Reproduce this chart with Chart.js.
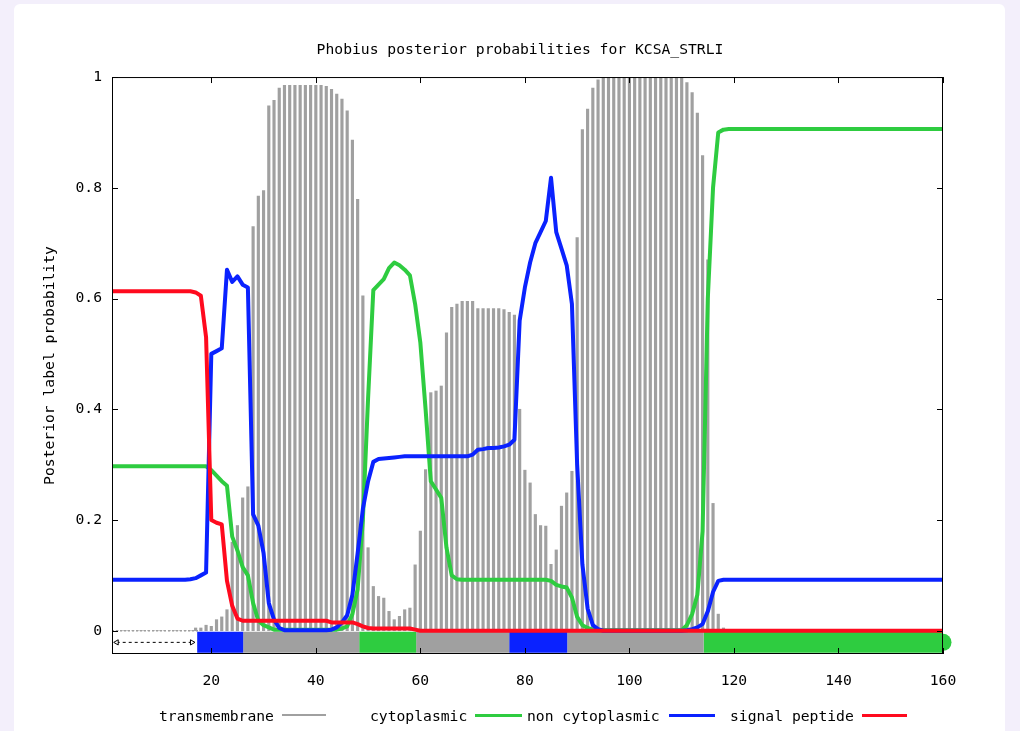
<!DOCTYPE html>
<html>
<head>
<meta charset="utf-8">
<title>Phobius posterior probabilities for KCSA_STRLI</title>
<script src="https://cdn.jsdelivr.net/npm/chart.js@4.4.1/dist/chart.umd.min.js"></script>
<style>
  body { margin: 0; width: 1020px; height: 731px; overflow: hidden; background: #f3effb; position: relative; }
  #panel { position: absolute; left: 14px; top: 4px; width: 991px; height: 760px; background: #fff; border-radius: 6px; }
  #chart { position: absolute; left: 0; top: 0; }
  .leg { position: absolute; top: 707px; font: 14.7px "DejaVu Sans Mono", monospace; color: #000; line-height: 18px; white-space: nowrap; }
  .key { position: absolute; height: 3px; }
</style>
</head>
<body>
<div id="panel"></div>
<canvas id="chart" width="1020" height="731"></canvas>

<span class="leg" style="left:159px">transmembrane</span>
<span class="key" style="left:282px; top:714px; width:44px; height:2px; background:#a0a0a0"></span>
<span class="leg" style="left:370px">cytoplasmic</span>
<span class="key" style="left:475px; top:714px; width:47px; background:#2ecc40"></span>
<span class="leg" style="left:527px">non cytoplasmic</span>
<span class="key" style="left:669px; top:714px; width:46px; background:#0a22ff"></span>
<span class="leg" style="left:730px">signal peptide</span>
<span class="key" style="left:862px; top:714px; width:45px; background:#ff0a1e"></span>

<script>
// residue positions along the sequence
const residues = Array.from({ length: 160 }, (_, i) => i + 1);

const xTicks = [20, 40, 60, 80, 100, 120, 140, 160];
const yTicks = [0, 0.2, 0.4, 0.6, 0.8, 1];

// posterior label probabilities per residue
const transmembrane = [
  0, 0, 0, 0, 0, 0, 0, 0, 0, 0,
  0, 0, 0, 0, 0, 0, 0.005, 0.005, 0.01, 0.008,
  0.02, 0.025, 0.038, 0.16, 0.19, 0.24, 0.26, 0.73, 0.785, 0.795,
  0.948, 0.958, 0.98, 0.985, 0.985, 0.985, 0.985, 0.985, 0.985, 0.985,
  0.985, 0.983, 0.978, 0.969, 0.96, 0.939, 0.886, 0.779, 0.605, 0.15,
  0.08, 0.062, 0.059, 0.035, 0.02, 0.026, 0.038, 0.041, 0.119, 0.18,
  0.291, 0.43, 0.433, 0.442, 0.538, 0.584, 0.59, 0.595, 0.595, 0.595,
  0.582, 0.582, 0.582, 0.582, 0.582, 0.58, 0.575, 0.57, 0.4, 0.29,
  0.267, 0.21, 0.19, 0.189, 0.12, 0.146, 0.225, 0.249, 0.288, 0.71,
  0.905, 0.942, 0.98, 0.995, 1, 1, 1, 1, 1, 1,
  1, 1, 1, 1, 1, 1, 1, 1, 1, 1,
  0.99, 0.972, 0.935, 0.858, 0.67, 0.23, 0.03, 0.005, 0, 0,
  0, 0, 0, 0, 0, 0, 0, 0, 0, 0,
  0, 0, 0, 0, 0, 0, 0, 0, 0, 0,
  0, 0, 0, 0, 0, 0, 0, 0, 0, 0,
  0, 0, 0, 0, 0, 0, 0, 0, 0, 0
];

const cytoplasmic = [
  0.297, 0.297, 0.297, 0.297, 0.297, 0.297, 0.297, 0.297, 0.297, 0.297,
  0.297, 0.297, 0.297, 0.297, 0.297, 0.297, 0.297, 0.297, 0.297, 0.29,
  0.28, 0.27, 0.262, 0.17, 0.145, 0.115, 0.1, 0.05, 0.018, 0.01,
  0.006, 0.002, 0.002, 0.002, 0.002, 0.002, 0.002, 0.002, 0.002, 0.002,
  0.002, 0.002, 0.002, 0.002, 0.004, 0.008, 0.03, 0.075, 0.2, 0.42,
  0.615, 0.625, 0.635, 0.655, 0.665, 0.66, 0.652, 0.642, 0.59, 0.52,
  0.4, 0.27, 0.255, 0.24, 0.15, 0.1, 0.093, 0.092, 0.092, 0.092,
  0.092, 0.092, 0.092, 0.092, 0.092, 0.092, 0.092, 0.092, 0.092, 0.092,
  0.092, 0.092, 0.092, 0.092, 0.09, 0.083, 0.08, 0.078, 0.06, 0.025,
  0.01, 0.005, 0.002, 0.001, 0.001, 0.001, 0.001, 0.001, 0.001, 0.001,
  0.001, 0.001, 0.001, 0.001, 0.001, 0.001, 0.001, 0.001, 0.001, 0.001,
  0.01, 0.03, 0.065, 0.18, 0.6, 0.8, 0.9, 0.905, 0.906, 0.906,
  0.906, 0.906, 0.906, 0.906, 0.906, 0.906, 0.906, 0.906, 0.906, 0.906,
  0.906, 0.906, 0.906, 0.906, 0.906, 0.906, 0.906, 0.906, 0.906, 0.906,
  0.906, 0.906, 0.906, 0.906, 0.906, 0.906, 0.906, 0.906, 0.906, 0.906,
  0.906, 0.906, 0.906, 0.906, 0.906, 0.906, 0.906, 0.906, 0.906, 0.906
];

const nonCytoplasmic = [
  0.092, 0.092, 0.092, 0.092, 0.092, 0.092, 0.092, 0.092, 0.092, 0.092,
  0.092, 0.092, 0.092, 0.092, 0.092, 0.093, 0.095, 0.1, 0.105, 0.5,
  0.505, 0.51, 0.652, 0.63, 0.64, 0.625, 0.62, 0.21, 0.19, 0.14,
  0.05, 0.02, 0.005, 0.001, 0.001, 0.001, 0.001, 0.001, 0.001, 0.001,
  0.001, 0.001, 0.002, 0.006, 0.015, 0.028, 0.065, 0.14, 0.22, 0.27,
  0.305, 0.31, 0.311, 0.312, 0.313, 0.314, 0.315, 0.315, 0.315, 0.315,
  0.315, 0.315, 0.315, 0.315, 0.315, 0.315, 0.315, 0.315, 0.315, 0.318,
  0.327, 0.328, 0.33, 0.33, 0.331, 0.333, 0.336, 0.345, 0.56, 0.62,
  0.665, 0.7, 0.72, 0.74, 0.818, 0.72, 0.69, 0.66, 0.59, 0.3,
  0.12, 0.04, 0.01, 0.003, 0, 0, 0, 0, 0, 0,
  0, 0, 0, 0, 0, 0, 0, 0, 0, 0,
  0.001, 0.003, 0.006, 0.012, 0.035, 0.07, 0.09, 0.092, 0.092, 0.092,
  0.092, 0.092, 0.092, 0.092, 0.092, 0.092, 0.092, 0.092, 0.092, 0.092,
  0.092, 0.092, 0.092, 0.092, 0.092, 0.092, 0.092, 0.092, 0.092, 0.092,
  0.092, 0.092, 0.092, 0.092, 0.092, 0.092, 0.092, 0.092, 0.092, 0.092,
  0.092, 0.092, 0.092, 0.092, 0.092, 0.092, 0.092, 0.092, 0.092, 0.092
];

const signalPeptide = [
  0.613, 0.613, 0.613, 0.613, 0.613, 0.613, 0.613, 0.613, 0.613, 0.613,
  0.613, 0.613, 0.613, 0.613, 0.613, 0.613, 0.611, 0.605, 0.53, 0.2,
  0.195, 0.192, 0.09, 0.045, 0.022, 0.018, 0.018, 0.018, 0.018, 0.018,
  0.018, 0.018, 0.018, 0.018, 0.018, 0.018, 0.018, 0.018, 0.018, 0.018,
  0.018, 0.018, 0.015, 0.015, 0.015, 0.015, 0.015, 0.012, 0.008, 0.005,
  0.004, 0.004, 0.004, 0.004, 0.004, 0.004, 0.004, 0.004, 0.002, 0,
  0, 0, 0, 0, 0, 0, 0, 0, 0, 0,
  0, 0, 0, 0, 0, 0, 0, 0, 0, 0,
  0, 0, 0, 0, 0, 0, 0, 0, 0, 0,
  0, 0, 0, 0, 0, 0, 0, 0, 0, 0,
  0, 0, 0, 0, 0, 0, 0, 0, 0, 0,
  0, 0, 0, 0, 0, 0, 0, 0, 0, 0,
  0, 0, 0, 0, 0, 0, 0, 0, 0, 0,
  0, 0, 0, 0, 0, 0, 0, 0, 0, 0,
  0, 0, 0, 0, 0, 0, 0, 0, 0, 0,
  0, 0, 0, 0, 0, 0, 0, 0, 0, 0
];

// predicted topology strip under the plot
const trackStart = [17.3, 26.1, 48.3, 59.2, 77.0, 88.1, 114.2];
const trackEnd   = [26.1, 48.3, 59.2, 77.0, 88.1, 114.2, 160];
const trackLabel = ['non cytoplasmic', 'transmembrane', 'cytoplasmic', 'transmembrane', 'non cytoplasmic', 'transmembrane', 'cytoplasmic'];
const trackLevel = -0.021;

// N-terminal part before the strip
const leadStart = 1;
const leadEnd = 17.5;
const arrowStart = 1.9;
const arrowEnd = 16.3;

const colors = {
  'transmembrane': '#a0a0a0',
  'cytoplasmic': '#2ecc40',
  'non cytoplasmic': '#0a22ff',
  'signal peptide': '#ff0a1e'
};

const FONT = '"DejaVu Sans Mono", monospace';

function series(values) {
  return residues.map((r, i) => ({ x: r, y: values[i] }));
}

function curve(label, values, order) {
  return {
    type: 'line',
    label,
    data: series(values),
    borderColor: colors[label],
    borderWidth: 4,
    borderJoinStyle: 'round',
    pointRadius: 0,
    tension: 0,
    order
  };
}

const datasets = [
  curve('signal peptide', signalPeptide, 1),
  curve('non cytoplasmic', nonCytoplasmic, 2),
  curve('cytoplasmic', cytoplasmic, 3)
];

trackStart.forEach((s, i) => {
  datasets.push({
    type: 'line',
    label: 'track ' + i,
    data: [{ x: s, y: trackLevel }, { x: trackEnd[i], y: trackLevel }],
    borderColor: colors[trackLabel[i]],
    borderWidth: 21,
    borderCapStyle: 'butt',
    pointRadius: 0,
    order: 4
  });
});

// rounded tail of the last strip segment, sticking out past the frame
datasets.push({
  type: 'line',
  label: 'track end',
  data: [{ x: trackEnd[6] - 1, y: trackLevel }, { x: trackEnd[6], y: trackLevel }],
  borderColor: colors[trackLabel[6]],
  borderWidth: 17,
  borderCapStyle: 'round',
  pointRadius: 0,
  clip: false,
  order: 5
});

datasets.push({
  type: 'line',
  label: 'lead',
  data: [{ x: leadStart, y: 0 }, { x: leadEnd, y: 0 }],
  borderColor: '#a0a0a0',
  borderWidth: 1.5,
  borderDash: [2, 2],
  pointRadius: 0,
  order: 5
});

datasets.push({
  type: 'line',
  label: 'arrow',
  data: [{ x: arrowStart, y: trackLevel }, { x: arrowEnd, y: trackLevel }],
  borderColor: '#000',
  borderWidth: 1,
  borderDash: [3, 3],
  pointStyle: 'triangle',
  pointRotation: [-90, 90],
  pointRadius: 3,
  pointBackgroundColor: '#fff',
  pointBorderColor: '#000',
  pointBorderWidth: 1,
  order: 5
});

datasets.push({
  type: 'bar',
  label: 'transmembrane',
  data: series(transmembrane),
  backgroundColor: colors['transmembrane'],
  borderWidth: 0,
  barThickness: 2.5,
  grouped: false,
  order: 6
});

// gnuplot style frame with inward ticks
const framePlugin = {
  id: 'frame',
  afterDatasetsDraw(chart) {
    const { ctx, chartArea: a, scales: { x, y } } = chart;
    ctx.save();
    ctx.strokeStyle = '#000';
    ctx.lineWidth = 1;
    ctx.strokeRect(a.left + 0.5, a.top + 0.5, a.right - a.left - 1, a.bottom - a.top - 1);
    ctx.beginPath();
    x.ticks.forEach(t => {
      const px = Math.round(x.getPixelForValue(t.value)) + 0.5;
      ctx.moveTo(px, a.bottom); ctx.lineTo(px, a.bottom - 6);
      ctx.moveTo(px, a.top); ctx.lineTo(px, a.top + 6);
    });
    y.ticks.forEach(t => {
      const py = Math.round(y.getPixelForValue(t.value)) + 0.5;
      ctx.moveTo(a.left, py); ctx.lineTo(a.left + 6, py);
      ctx.moveTo(a.right, py); ctx.lineTo(a.right - 6, py);
    });
    ctx.stroke();
    ctx.restore();
  }
};

new Chart(document.getElementById('chart'), {
  type: 'line',
  data: { datasets },
  options: {
    responsive: false,
    animation: false,
    events: [],
    layout: { padding: { left: 20, right: 0, top: 0, bottom: 0 } },
    plugins: {
      legend: { display: false },
      tooltip: { enabled: false },
      title: {
        display: true,
        text: 'Phobius posterior probabilities for KCSA_STRLI',
        color: '#000',
        font: { family: FONT, size: 14.7, weight: 'normal' },
        padding: { top: 41, bottom: 18.4 }
      }
    },
    scales: {
      x: {
        type: 'linear',
        offset: false,
        min: 1,
        max: 160,
        grid: { display: false, offset: false },
        border: { display: false },
        afterBuildTicks: s => { s.ticks = xTicks.map(v => ({ value: v })); },
        afterFit: s => { s.height = 77; },
        ticks: {
          color: '#000',
          padding: 10,
          maxRotation: 0,
          autoSkip: false,
          font: { family: FONT, size: 14.7 },
          callback: v => String(v)
        }
      },
      y: {
        min: -0.042,
        max: 1,
        grid: { display: false },
        border: { display: false },
        afterBuildTicks: s => { s.ticks = yTicks.map(v => ({ value: v })); },
        afterFit: s => { s.width = 92; },
        ticks: {
          color: '#000',
          padding: 2,
          autoSkip: false,
          font: { family: FONT, size: 14.7 },
          callback: v => String(v)
        },
        title: {
          display: true,
          text: 'Posterior label probability',
          color: '#000',
          font: { family: FONT, size: 14.7 },
          padding: { top: 21 }
        }
      },
      yRight: {
        position: 'right',
        min: 0,
        max: 1,
        grid: { display: false },
        border: { display: false },
        ticks: { display: false },
        afterFit: s => { s.width = 77; }
      }
    }
  },
  plugins: [framePlugin]
});
</script>
</body>
</html>
